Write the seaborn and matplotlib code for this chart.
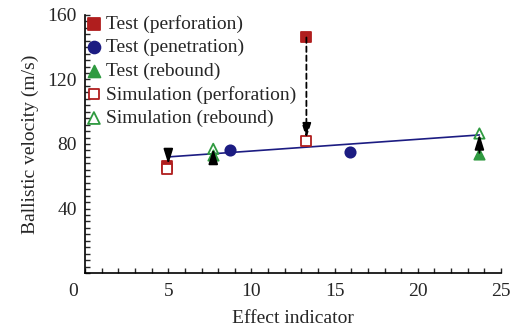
import numpy as np
import pandas as pd
import matplotlib
matplotlib.use("Agg")
import matplotlib.pyplot as plt
import seaborn as sns
from matplotlib.ticker import MultipleLocator

# data
test_perf_x = [4.9, 13.3]
test_perf_y = [66.5, 146]
test_pen_x = [8.7, 15.9]
test_pen_y = [76, 75]
test_reb_x = [7.7, 23.7]
test_reb_y = [73, 73.5]
sim_perf_x = [4.9, 13.3]
sim_perf_y = [64.5, 82]
sim_reb_x = [7.7, 23.7]
sim_reb_y = [77, 86.5]
fit_x = [5.0, 23.7]
fit_y = [72.0, 85.6]

# arrows: x, start, end, dashed
arrow_x = [5.0, 7.7, 13.3, 23.7]
arrow_from = [72.0, 72.5, 146, 74.5]
arrow_to = [67.5, 77.0, 83.5, 86.0]
arrow_dashed = [False, False, True, False]

red = "#b01e1e"
navy = "#1c1c82"
green = "#2f9a40"

sns.set_style("ticks")
plt.rcParams['font.family'] = ['Liberation Serif', 'DejaVu Serif']
plt.rcParams['font.size'] = 14

fig = plt.figure(figsize=(5.16, 3.31), dpi=100)
ax = fig.add_axes([0.165, 0.175, 0.806, 0.78])

fit = pd.DataFrame({'x': fit_x, 'y': fit_y})
sns.lineplot(data=fit, x='x', y='y', color=navy, lw=1.2, ax=ax, legend=False)

for xs, ys, m, fc, ec, lab, ms in [
    (test_perf_x, test_perf_y, 's', red, red, 'Test (perforation)', 50),
    (test_pen_x, test_pen_y, 'o', navy, navy, 'Test (penetration)', 55),
    (test_reb_x, test_reb_y, '^', green, green, 'Test (rebound)', 55),
    (sim_perf_x, sim_perf_y, 's', 'white', red, 'Simulation (perforation)', 45),
    (sim_reb_x, sim_reb_y, '^', 'none', green, 'Simulation (rebound)', 55),
]:
    df = pd.DataFrame({'x': xs, 'y': ys})
    sns.scatterplot(data=df, x='x', y='y', marker=m, s=ms, facecolor=fc,
                    edgecolor=ec, linewidth=1.3, label=lab, ax=ax, zorder=3)

for x, y0, y1, d in zip(arrow_x, arrow_from, arrow_to, arrow_dashed):
    ax.annotate('', xy=(x, y1), xytext=(x, y0),
                arrowprops=dict(arrowstyle='-|>,head_width=0.28,head_length=0.9',
                                color='black', lw=1.3,
                                ls=(0, (3, 2)) if d else '-',
                                mutation_scale=10, shrinkA=0, shrinkB=0),
                zorder=4)

ax.set_xlim(0, 25)
ax.set_ylim(0, 160)
ax.xaxis.set_major_locator(MultipleLocator(5))
ax.xaxis.set_minor_locator(MultipleLocator(1))
ax.yaxis.set_major_locator(MultipleLocator(40))
ax.yaxis.set_minor_locator(MultipleLocator(4))
ax.set_xticks([0, 5, 10, 15, 20, 25], ['', '5', '10', '15', '20', '25'])
ax.set_yticks([0, 40, 80, 120, 160], ['', '40', '80', '120', '160'])
ax.tick_params(which='both', direction='in', length=3.5, width=1, top=False, right=False)
ax.tick_params(axis='x', pad=7)
ax.tick_params(axis='y', pad=6)
ax.text(-0.03, -0.07, '0', transform=ax.transAxes, ha='center', va='center')
sns.despine(ax=ax)
for s in ['left', 'bottom']:
    ax.spines[s].set_linewidth(1.2)
    ax.spines[s].set_color('black')

ax.set_xlabel('Effect indicator', labelpad=7)
ax.set_ylabel('Ballistic velocity (m/s)', labelpad=6)

leg = ax.legend(loc='upper left', bbox_to_anchor=(-0.035, 1.045), frameon=False,
                handletextpad=0.0, handlelength=1.2, labelspacing=0.3,
                borderaxespad=0.2, fontsize=14, markerscale=1.15)

fig.savefig('out.png', dpi=100)
